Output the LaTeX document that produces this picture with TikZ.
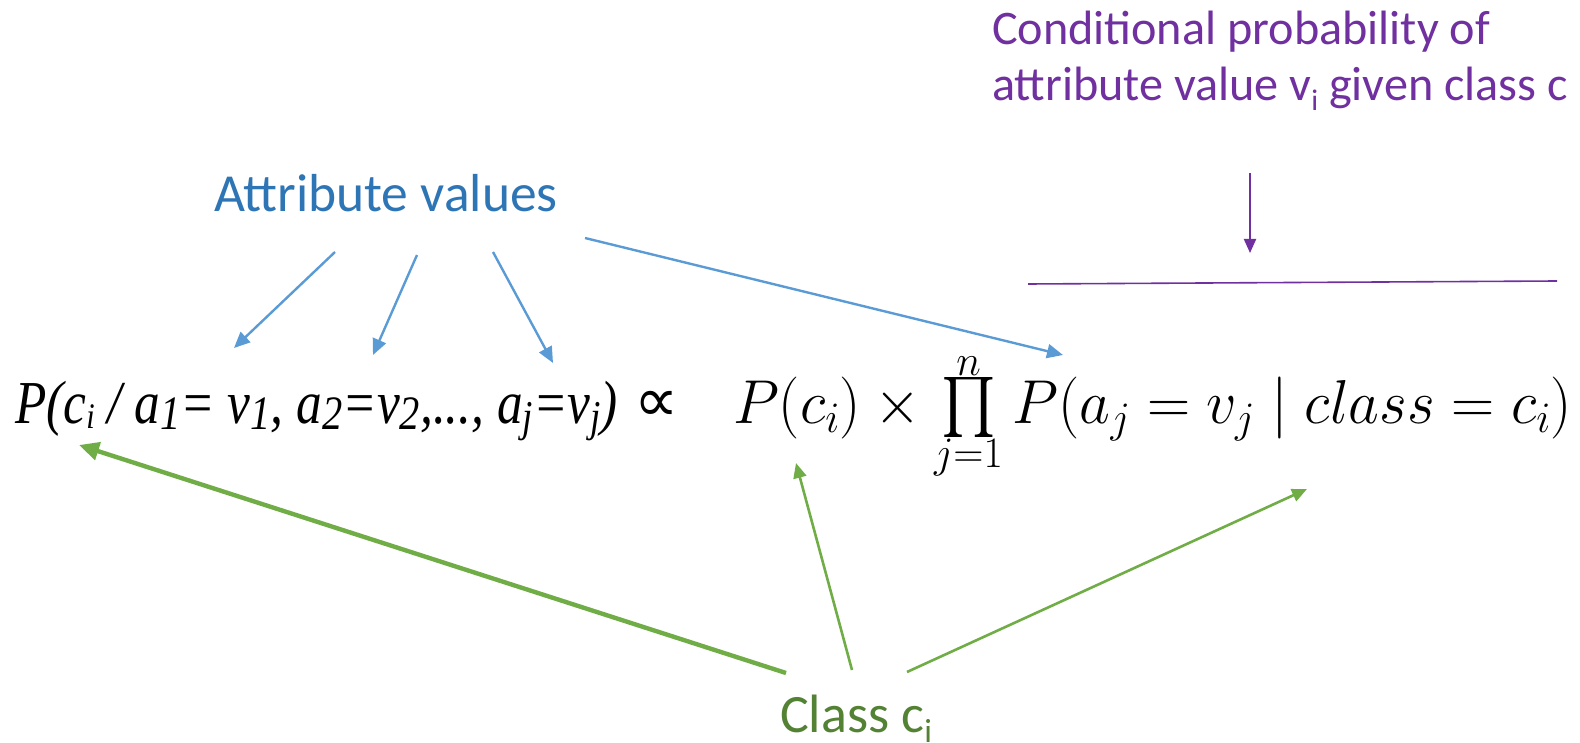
\RequirePackage{fix-cm}
\documentclass[tikz,border=0pt]{standalone}
\usepackage{fontspec}
\usepackage{graphicx}
\newfontfamily\calib{Carlito}
\newfontfamily\timesit{Liberation Serif Italic}
\newfontfamily\dejavu{DejaVu Sans}
\font\bigex=cmex10 at 60pt
\usetikzlibrary{arrows.meta}
\definecolor{bluetxt}{HTML}{2E75B6}
\definecolor{bluearr}{HTML}{5B9BD5}
\definecolor{greentxt}{HTML}{548235}
\definecolor{greenarr}{HTML}{70AD47}
\definecolor{purp}{HTML}{7030A0}
\newcommand\tsub[3][6pt]{\raisebox{-#1}{\fontsize{#2}{#2}\selectfont #3}}
\newcommand\csub[1]{\raisebox{-0.2em}{\scalebox{0.62}{#1}}}
\newcommand\bigprod{\mathop{\vcenter{\hbox{\bigex\char"51}}}\limits}
\tikzset{
  lbl/.style={inner sep=0pt, outer sep=0pt, anchor=base west},
  bluearrow/.style={draw=bluearr, line width=2.4pt, -{Triangle[length=16pt,width=14pt]}},
  greenarrow/.style={draw=greenarr, line width=2.6pt, -{Triangle[length=15pt,width=13pt]}},
  greenthick/.style={draw=greenarr, line width=4.4pt, -{Triangle[length=20pt,width=18pt]}},
  purparrow/.style={draw=purp, line width=2pt, -{Triangle[length=14pt,width=12pt]}},
}
\begin{document}
\begin{tikzpicture}[x=1pt,y=-1pt]
\useasboundingbox (0,0) rectangle (1580,743);
% texts
\node[lbl, text=purp, align=left, font=\calib\fontsize{48.2}{56}\selectfont] (cond) at (992,101)
  {Conditional probability of\\attribute value v\csub{i} given class c};
\node[lbl, text=bluetxt, font=\calib\fontsize{53.5}{60}\selectfont] (attr) at (214,212) {Attribute values};
\node[lbl, text=greentxt, font=\calib\fontsize{54}{60}\selectfont] (classc) at (780,732) {Class c\csub{i}};
\node[lbl, font=\timesit\fontsize{61}{70}\selectfont] (lhs) at (15,423)
  {\resizebox{603pt}{\height}{P(c\tsub[5pt]{36}{i} / a\tsub{48}{1}= v\tsub{48}{1}, a\tsub{48}{2}=v\tsub{48}{2},..., a\tsub[8pt]{44}{j}=v\tsub[8pt]{44}{j})}};
\node[lbl, font=\dejavu\fontsize{62}{66}\selectfont] (prop) at (634,421) {∝};
\node[lbl, font=\fontsize{62}{70}\selectfont] (rhs) at (733,423)
  {\resizebox{839pt}{\height}{$P(c_i)\times\bigprod_{j=1}^{n}P(a_j=v_j\mid class=c_i)$}};
% coordinates
\coordinate (b1s) at (335,252); \coordinate (b1e) at (234,348);
\coordinate (b2s) at (417,255); \coordinate (b2e) at (373,355);
\coordinate (b3s) at (493,252); \coordinate (b3e) at (553,363);
\coordinate (b4s) at (585,238); \coordinate (b4e) at (1063,355);
\coordinate (g1s) at (786,673); \coordinate (g1e) at (79,445);
\coordinate (g2s) at (852,670); \coordinate (g2e) at (796,463);
\coordinate (g3s) at (907,672); \coordinate (g3e) at (1307,489);
\coordinate (ps) at (1250,173); \coordinate (pe) at (1250,253);
\coordinate (l1) at (1028,284); \coordinate (l2) at (1557,281);
% connectors
\draw[bluearrow] (b1s) -- (b1e);
\draw[bluearrow] (b2s) -- (b2e);
\draw[bluearrow] (b3s) -- (b3e);
\draw[bluearrow] (b4s) -- (b4e);
\draw[greenthick] (g1s) -- (g1e);
\draw[greenarrow] (g2s) -- (g2e);
\draw[greenarrow] (g3s) -- (g3e);
\draw[purparrow] (ps) -- (pe);
\draw[purp, line width=1.6pt] (l1) -- (l2);
\end{tikzpicture}
\end{document}
